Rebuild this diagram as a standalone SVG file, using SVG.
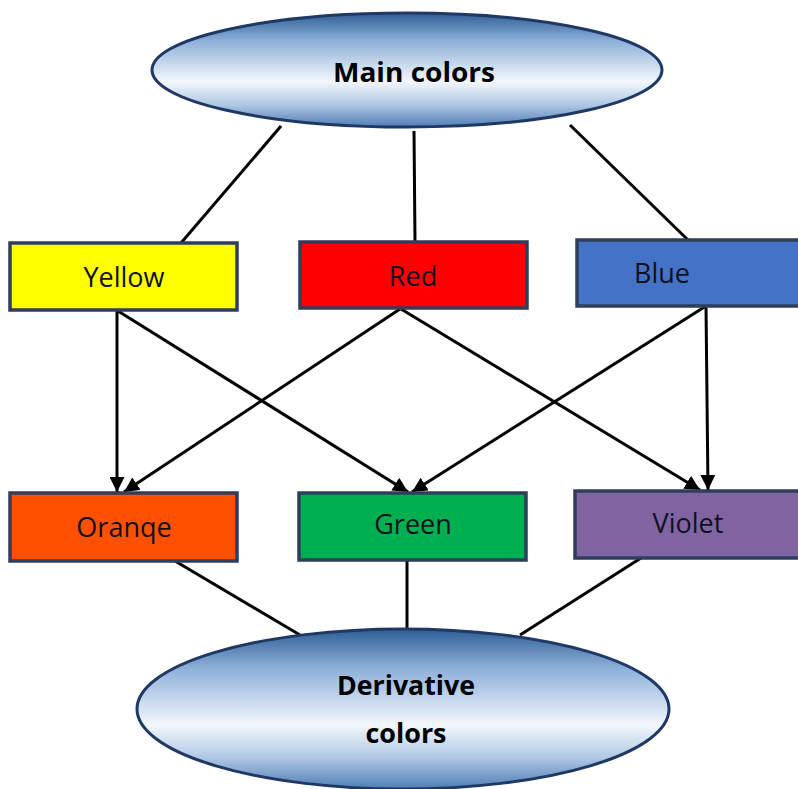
<svg xmlns="http://www.w3.org/2000/svg" width="798" height="789" viewBox="0 0 798 789">
<defs>
<linearGradient id="eg" x1="0" y1="0" x2="0" y2="1">
<stop offset="0" stop-color="#2E5E95"/>
<stop offset="0.25" stop-color="#8FB1D9"/>
<stop offset="0.6" stop-color="#F3F7FC"/>
<stop offset="0.8" stop-color="#B2C9E5"/>
<stop offset="1" stop-color="#4F7DB5"/>
</linearGradient>
<marker id="ah" viewBox="0 0 10 10" refX="10" refY="5" markerWidth="5" markerHeight="5" orient="auto" markerUnits="strokeWidth">
<path d="M0,0 L10,5 L0,10 Z" fill="#000"/>
</marker>
<style>
.ell{fill:url(#eg);stroke:#1F3864;stroke-width:3}
.box{stroke:#2F3E5C;stroke-width:3.5}
.lt{font-family:"Open Sans","Noto Sans",sans-serif;font-size:27px;fill:#111122;text-anchor:middle}
.bt{font-family:"Open Sans","Noto Sans",sans-serif;font-size:26px;font-weight:bold;fill:#000;text-anchor:middle}
.ln{stroke:#000;stroke-width:3;fill:none}
.ar{stroke:#000;stroke-width:3;fill:none;marker-end:url(#ah)}
</style>
</defs>
<rect width="798" height="789" fill="#fff"/>
<g id="connectors">
<line class="ln" x1="281" y1="126" x2="181" y2="243"/>
<line class="ln" x1="414" y1="131" x2="415" y2="242"/>
<line class="ln" x1="570" y1="125" x2="688" y2="240"/>
<line class="ar" x1="117" y1="311" x2="117" y2="492"/>
<line class="ar" x1="118" y1="311" x2="408" y2="492"/>
<line class="ar" x1="400" y1="309" x2="124" y2="492"/>
<line class="ar" x1="401" y1="309" x2="700" y2="490"/>
<line class="ar" x1="706" y1="306" x2="412" y2="492"/>
<line class="ar" x1="706" y1="306" x2="708" y2="490"/>
<line class="ln" x1="175" y1="561" x2="300" y2="635"/>
<line class="ln" x1="407" y1="560" x2="407" y2="631"/>
<line class="ln" x1="641" y1="558" x2="520" y2="635"/>
</g>
<g id="main">
<ellipse class="ell" cx="407" cy="70" rx="255" ry="57"/>
<text class="bt" x="414" y="82" textLength="162" lengthAdjust="spacingAndGlyphs">Main colors</text>
</g>
<g id="yellow">
<rect class="box" x="10" y="243" width="227" height="67" fill="#FFFF00"/>
<text class="lt" x="124" y="287">Yellow</text>
</g>
<g id="red">
<rect class="box" x="300" y="242" width="227" height="66" fill="#FF0000"/>
<text class="lt" x="413" y="286">Red</text>
</g>
<g id="blue">
<rect class="box" x="577" y="240" width="226" height="66" fill="#4472C4"/>
<text class="lt" x="662" y="283">Blue</text>
</g>
<g id="orange">
<rect class="box" x="10" y="493" width="227" height="68" fill="#FF5000" stroke="#111"/>
<text class="lt" x="124" y="537">Oranqe</text>
</g>
<g id="green">
<rect class="box" x="299" y="493" width="227" height="67" fill="#00B050"/>
<text class="lt" x="413" y="534">Green</text>
</g>
<g id="violet">
<rect class="box" x="575" y="491" width="227" height="67" fill="#8064A2"/>
<text class="lt" x="688" y="533">Violet</text>
</g>
<g id="derivative">
<ellipse class="ell" cx="403" cy="709" rx="266" ry="80"/>
<text class="bt" x="406" y="695" textLength="138" lengthAdjust="spacingAndGlyphs">Derivative</text>
<text class="bt" x="406" y="743" textLength="81" lengthAdjust="spacingAndGlyphs">colors</text>
</g>
</svg>
